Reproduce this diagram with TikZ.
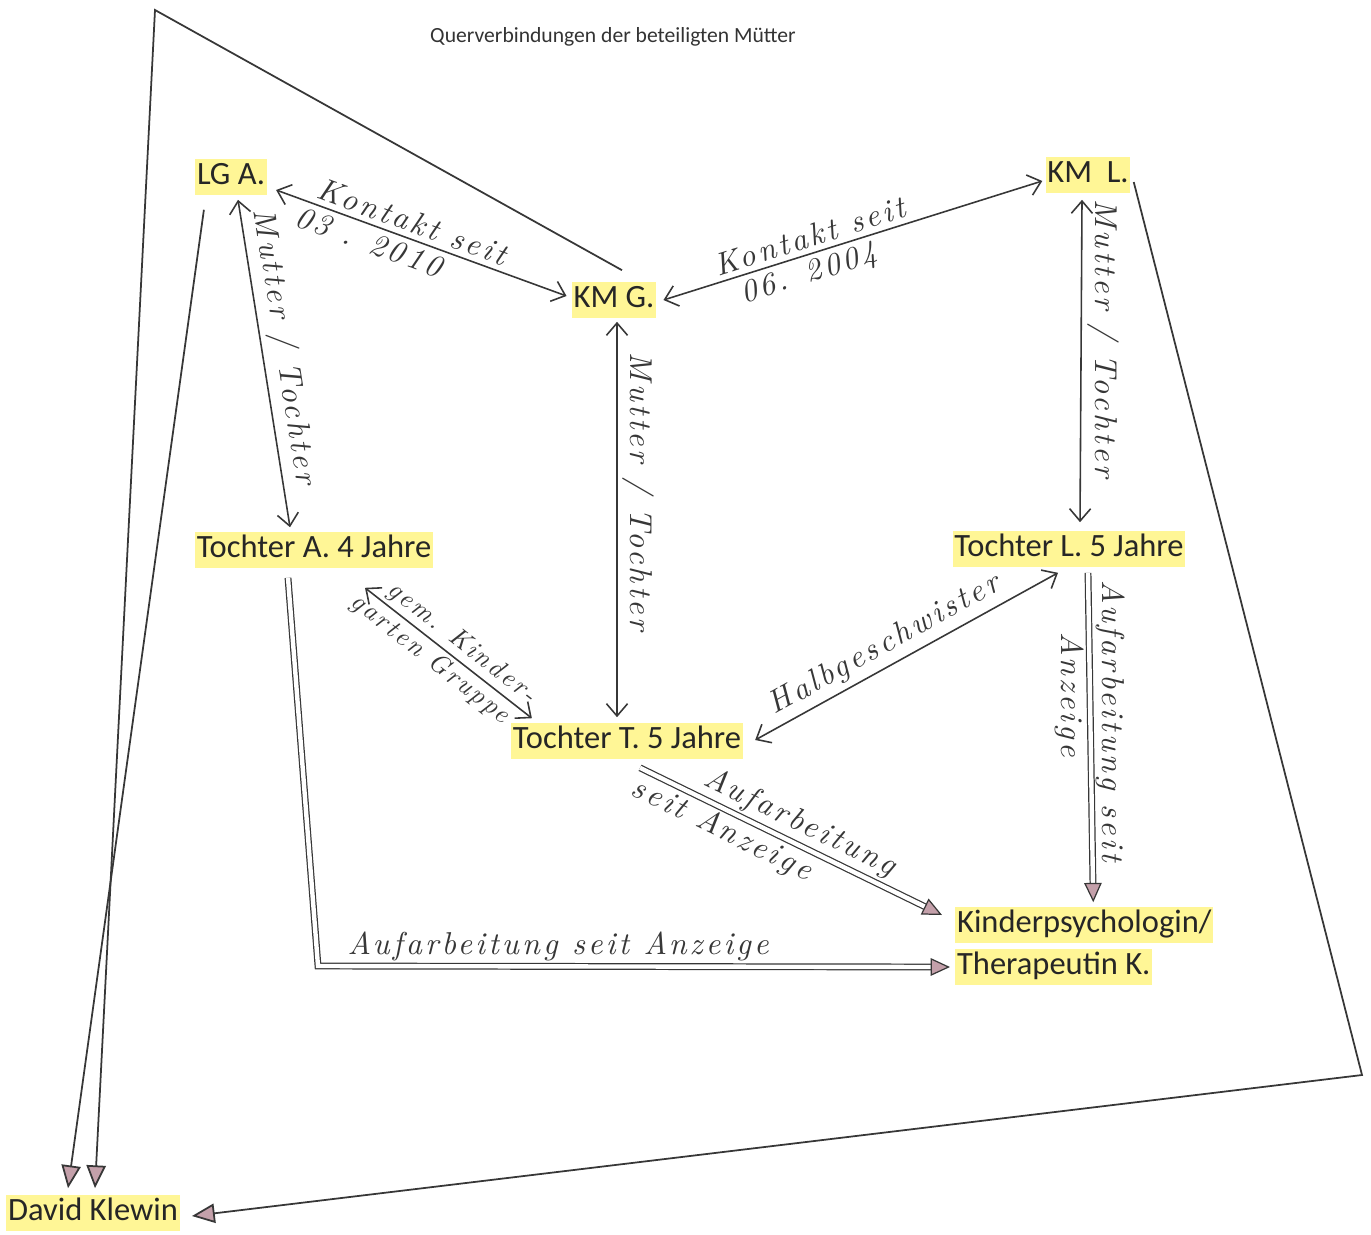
\documentclass[tikz,border=0pt]{standalone}
\usepackage{fontspec}
\newfontfamily\carl{Carlito}
\newfontfamily\handfont{lmroman10-italic.otf}[LetterSpace=10]
\usepackage{tikz}
\usetikzlibrary{arrows.meta,positioning,calc}
\definecolor{hlyellow}{RGB}{255,246,150}
\definecolor{inkgray}{RGB}{55,55,55}
\definecolor{tippink}{RGB}{196,160,170}

\begin{document}
\begin{tikzpicture}[
    x=0.02cm, y=-0.02cm,
    person/.style={fill=hlyellow, inner xsep=1pt, inner ysep=2pt, text height=13pt, text depth=4pt, font=\carl\fontsize{18.5}{20}\selectfont, text=black!85},
    hand/.style={font=\handfont\fontsize{18}{20}\selectfont, text=inkgray, inner sep=3pt},
    handsmall/.style={hand, font=\handfont\fontsize{15}{17}\selectfont, inner sep=2pt},
    link/.style={draw=inkgray, line width=0.9pt, {Straight Barb[length=7pt,width=12pt]}-{Straight Barb[length=7pt,width=12pt]}},
    work/.style={draw=inkgray, line width=0.7pt, double=white, double distance=2.5pt, -{Triangle[length=11pt,width=10pt,fill=tippink]}},
    frame/.style={draw=inkgray, line width=1pt, -{Triangle[length=13pt,width=11pt,fill=tippink]}}
]
    \useasboundingbox (0,0) rectangle (1371,1234);

    \node [font=\carl\fontsize{12.3}{14}\selectfont, text=black!80] (title) at (613,37) {Querverbindungen der beteiligten Mütter};

    % Personen
    \node [person] (lga) at (231,177) {LG A.};
    \node [person] (kmg) at (614,300) {KM G.};
    \node [person] (kml) at (1088,175) {KM\ \ L.};
    \node [person] (ta) at (314,550) {Tochter A. 4 Jahre};
    \node [person] (tt) at (627,741) {Tochter T. 5 Jahre};
    \node [person] (tl) at (1069,549) {Tochter L. 5 Jahre};
    \node [person, anchor=west] (kpa) at (955,925) {Kinderpsychologin/};
    \node [person, anchor=west] (kpb) at (955,967) {Therapeutin K.};
    \node [person] (dk) at (93,1213) {David Klewin};

    \coordinate (topleft) at (155,10);
    \coordinate (botright) at (1362,1075);
    \coordinate (bendA) at (318,966);

    % Kontakte
    \draw [link] ($(lga.east)+(9,13)$) -- node [hand, sloped, above, pos=0.45] {Kontakt seit} node [hand, sloped, below, pos=0.34] {03 . 2010} ($(kmg.west)+(-5,-4)$);
    \draw [link] ($(kmg.east)+(7,0)$) -- node [hand, sloped, above, pos=0.4] {Kontakt seit} node [hand, sloped, below, pos=0.37] {06. 2004} ($(kml.west)+(-3,6)$);
    \draw [link] ($(lga.south)+(7,4)$) -- node [hand, sloped, above, pos=0.46] {Mutter / Tochter} ($(ta.north)+(-24,-4)$);
    \draw [link] ($(kmg.south)+(3,3)$) -- node [hand, rotate=-90, anchor=south, pos=0.43] {Mutter / Tochter} ($(tt.north)+(-10,-5)$);
    \draw [link] ($(kml.south)+(-6,6)$) -- node [hand, rotate=-90, anchor=south, pos=0.43] {Mutter / Tochter} ($(tl.north)+(11,-8)$);
    \draw [link] ($(ta.south)+(51,19)$) -- node [handsmall, sloped, above, pos=0.52] {gem. Kinder-} node [handsmall, sloped, below, pos=0.45] {garten Gruppe} ($(tt.north west)+(21,-4)$);
    \draw [link] ($(tt.east)+(12,-1)$) -- node [hand, sloped, above, pos=0.46] {Halbgeschwister} ($(tl.south)+(-11,5)$);

    % Aufarbeitung
    \draw [work] ($(tl.south)+(19,5)$) -- node [hand, rotate=-90, anchor=south, pos=0.45] {Aufarbeitung seit} node [hand, rotate=-90, anchor=north, pos=0.37] {Anzeige} ($(kpa.north)+(9,-4)$);
    \draw [work] ($(tt.south)+(13,8)$) -- node [hand, sloped, above, pos=0.5] {Aufarbeitung} node [hand, sloped, below, pos=0.3] {seit Anzeige} ($(kpa.west)+(-13,-10)$);
    \draw [work] ($(ta.south)+(-26,9)$) -- (bendA) -- node [hand, above, pos=0.38] {Aufarbeitung seit Anzeige} ($(kpb.west)+(-5,0)$);

    % Rahmen zu David Klewin
    \draw [frame] ($(lga.south west)+(9,14)$) -- ($(dk.north)+(-25,-6)$);
    \draw [frame] ($(kmg.north)+(8,-11)$) -- (topleft) -- ($(dk.north)+(2,-6)$);
    \draw [frame] ($(kml.east)+(3,7)$) -- (botright) -- ($(dk.east)+(12,3)$);
\end{tikzpicture}
\end{document}
